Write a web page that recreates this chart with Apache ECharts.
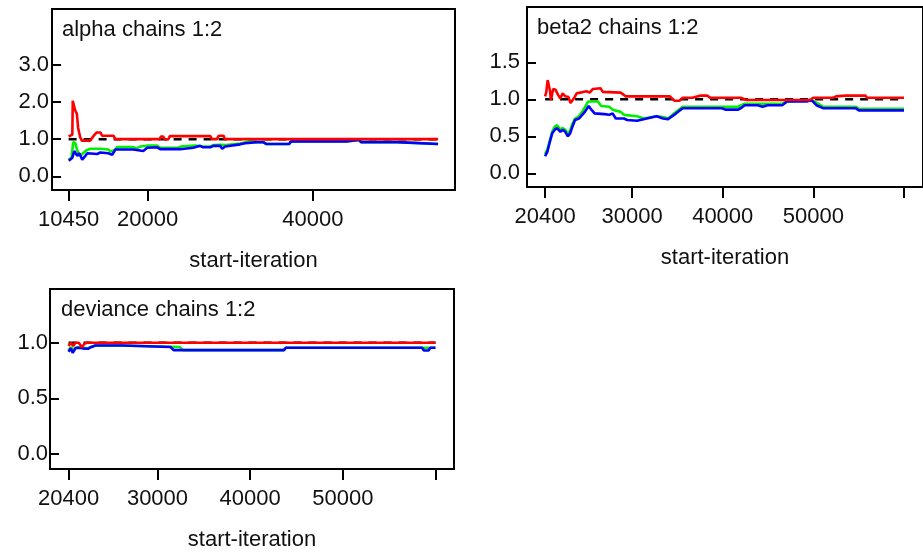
<!DOCTYPE html>
<html>
<head>
<meta charset="utf-8">
<title>BGR diagnostics</title>
<script src="https://cdn.jsdelivr.net/npm/echarts@6/dist/echarts.min.js"></script>
<style>
  html, body { margin: 0; padding: 0; background: #fff; }
  #chart { width: 923px; height: 552px; }
</style>
</head>
<body>
<div id="chart"></div>
<script>
// panel titles
var panelTitles = ["alpha chains 1:2", "beta2 chains 1:2", "deviance chains 1:2"];

// alpha: [start-iteration, value]
var alphaRed = [[10450,1.07],[10900,1.12],[10950,2.03],[11150,2.03],[11250,1.77],[11450,1.68],[11600,1.3],[11850,1.05],[12050,0.96],[13050,0.96],[13450,1.08],[13850,1.18],[14300,1.18],[14500,1.09],[15900,1.09],[16100,1.0],[21500,1.0],[21600,1.07],[21900,1.07],[22100,0.99],[22500,0.99],[22700,1.08],[27600,1.08],[27800,1.0],[28400,1.0],[28600,1.09],[29200,1.09],[29350,1.0],[55150,1.0]];
var alphaGreen = [[10450,0.45],[10800,0.5],[11000,0.92],[11250,0.9],[11500,0.7],[11850,0.55],[12200,0.62],[12600,0.7],[13100,0.74],[14300,0.74],[15250,0.72],[15500,0.67],[16000,0.7],[16350,0.79],[18270,0.79],[18600,0.74],[19100,0.8],[20100,0.83],[21170,0.83],[21530,0.77],[23700,0.77],[24190,0.81],[25760,0.83],[26730,0.8],[27580,0.8],[27940,0.84],[28790,0.85],[29030,0.8],[29500,0.84],[31200,0.88],[32400,0.94],[33260,0.92],[33990,0.92],[34350,0.87],[37130,0.87],[37370,0.94],[44020,0.94],[44260,0.98],[45590,0.98],[45830,0.92],[50190,0.92],[50430,0.87],[55150,0.87]];
var alphaBlue = [[10470,0.42],[10900,0.5],[11140,0.68],[11500,0.55],[11740,0.62],[12100,0.45],[12470,0.55],[12710,0.62],[13920,0.6],[14280,0.64],[15250,0.62],[15490,0.57],[15730,0.58],[16100,0.72],[18270,0.72],[18500,0.68],[19480,0.68],[19960,0.77],[21170,0.78],[21530,0.73],[23950,0.73],[24190,0.77],[25520,0.77],[25760,0.82],[26370,0.82],[26730,0.78],[27580,0.78],[27940,0.82],[28790,0.82],[29030,0.74],[29390,0.8],[31200,0.86],[31800,0.89],[33260,0.92],[33990,0.92],[34350,0.87],[37130,0.87],[37370,0.94],[44020,0.94],[44260,0.98],[45590,0.98],[45830,0.92],[50190,0.92],[50430,0.87],[55150,0.87]];
var alphaRef = [[10450,1],[55150,1]];

// beta2
var beta2Red = [[20400,1.04],[20530,1.10],[20680,1.26],[20820,1.24],[20930,1.12],[21040,0.99],[21140,1.0],[21290,1.14],[21540,1.13],[21830,1.06],[22080,1.01],[22330,1.08],[22620,1.04],[22980,1.03],[23200,0.95],[23340,0.94],[23560,1.01],[23880,1.08],[24600,1.10],[24960,1.11],[25320,1.09],[25680,1.14],[26510,1.15],[26760,1.10],[28740,1.09],[29280,1.04],[34140,1.04],[34680,0.98],[35220,0.98],[35580,1.02],[36660,1.02],[37560,1.05],[38280,1.05],[38640,1.02],[42060,1.02],[42600,0.99],[45840,0.99],[46020,1.01],[46380,0.99],[49620,0.99],[49980,1.02],[52140,1.02],[52500,1.04],[53580,1.05],[55740,1.05],[55920,1.02],[60000,1.02]];
var beta2Green = [[20400,0.26],[20640,0.32],[20890,0.43],[21180,0.56],[21470,0.63],[21720,0.65],[22080,0.59],[22330,0.61],[22620,0.59],[22910,0.53],[23160,0.58],[23410,0.67],[23700,0.74],[24130,0.77],[24490,0.83],[24780,0.89],[25140,0.97],[26220,0.97],[26580,0.91],[27480,0.90],[27840,0.86],[28740,0.83],[29100,0.79],[30540,0.77],[31260,0.74],[32700,0.77],[33420,0.76],[33960,0.74],[34860,0.83],[35580,0.90],[41700,0.90],[42420,0.94],[46560,0.94],[47100,0.97],[49800,0.99],[50520,0.94],[51060,0.90],[54660,0.90],[55020,0.87],[60000,0.87]];
var beta2Blue = [[20400,0.23],[20640,0.29],[20890,0.41],[21180,0.54],[21470,0.59],[21720,0.61],[22080,0.56],[22330,0.59],[22620,0.56],[22910,0.50],[23160,0.54],[23410,0.63],[23700,0.72],[24130,0.74],[24490,0.79],[24780,0.83],[25210,0.91],[25500,0.86],[25860,0.81],[26940,0.80],[27480,0.79],[27840,0.81],[28200,0.74],[29100,0.74],[29460,0.72],[30540,0.71],[31260,0.73],[32700,0.77],[33420,0.74],[33960,0.73],[34860,0.81],[35580,0.88],[39900,0.88],[40300,0.86],[41700,0.86],[42000,0.88],[42420,0.92],[43860,0.92],[44400,0.90],[44940,0.92],[46560,0.92],[47100,0.97],[49260,0.97],[49800,0.99],[50340,0.92],[51060,0.88],[54660,0.88],[55020,0.85],[60000,0.85]];
var beta2Ref = [[20400,1],[60000,1]];

// deviance
var devianceRed = [[20400,0.97],[20650,1.0],[20900,0.97],[21150,1.0],[21500,1.0],[21850,0.96],[22100,0.99],[22400,1.0],[60000,1.0]];
var devianceGreen = [[20400,0.93],[20650,0.96],[20850,0.94],[21150,0.955],[21400,0.96],[21900,0.955],[22500,0.95],[22800,0.962],[23300,0.975],[26200,0.975],[26400,0.962],[32400,0.962],[32750,0.934],[43650,0.934],[43850,0.955],[60000,0.955]];
var devianceBlue = [[20400,0.92],[20650,0.95],[20850,0.91],[21150,0.95],[21400,0.955],[21900,0.95],[22500,0.946],[22800,0.96],[23300,0.975],[26200,0.975],[26400,0.962],[31400,0.962],[31750,0.934],[43650,0.934],[43850,0.955],[58550,0.955],[58750,0.93],[59250,0.93],[59450,0.955],[60000,0.955]];
var devianceRef = [[20400,1],[60000,1]];

// ticks / labels
var alphaYTicks = [0, 1, 2, 3];
var alphaXTicks = [10450, 20000, 40000];
var beta2YTicks = [0, 0.5, 1, 1.5];
var beta2XTicks = [20400, 30000, 40000, 50000, 60000];
var beta2XLabels = [20400, 30000, 40000, 50000];
var devianceYTicks = [0, 0.5, 1];
var devianceXTicks = [20400, 30000, 40000, 50000, 60000];
var devianceXLabels = [20400, 30000, 40000, 50000];

var FONT = "'Liberation Sans', Arial, sans-serif";
var TXT = "#111";

var panels = [
  { grid: { left: 52, top: 9, width: 403, height: 181 }, xmin: 8440, xmax: 57200, ymin: -0.368, ymax: 4.5,
    xTicks: alphaXTicks, xLabels: alphaXTicks, yTicks: alphaYTicks, yMargin: 3,
    red: alphaRed, green: alphaGreen, blue: alphaBlue, ref: alphaRef, tx: 62, ty: 19 },
  { grid: { left: 527, top: 7, width: 405, height: 180 }, xmin: 18400, xmax: 62100, ymin: -0.185, ymax: 2.247,
    xTicks: beta2XTicks, xLabels: beta2XLabels, yTicks: beta2YTicks, yMargin: 7,
    red: beta2Red, green: beta2Green, blue: beta2Blue, ref: beta2Ref, tx: 537, ty: 17 },
  { grid: { left: 50, top: 289, width: 404, height: 181 }, xmin: 18400, xmax: 62000, ymin: -0.134, ymax: 1.483,
    xTicks: devianceXTicks, xLabels: devianceXLabels, yTicks: devianceYTicks, yMargin: 2,
    red: devianceRed, green: devianceGreen, blue: devianceBlue, ref: devianceRef, tx: 61, ty: 299 }
];

var grids = [], xAxes = [], yAxes = [], series = [], graphics = [];

panels.forEach(function (p, i) {
  grids.push(Object.assign({ show: true, borderColor: "#000", borderWidth: 2, backgroundColor: "transparent" }, p.grid));
  xAxes.push({
    type: "value", gridIndex: i, min: p.xmin, max: p.xmax,
    axisLine: { show: true, onZero: false, lineStyle: { color: "#000", width: 2 } },
    axisTick: { show: true, length: 11, customValues: p.xTicks, lineStyle: { color: "#000", width: 2 } },
    axisLabel: { customValues: p.xLabels, margin: 19, fontSize: 22, color: TXT, fontFamily: FONT,
      formatter: function (v) { return String(v); } },
    splitLine: { show: false },
    name: "start-iteration", nameLocation: "middle", nameGap: 60,
    nameTextStyle: { fontSize: 22, color: TXT, fontFamily: FONT }
  });
  yAxes.push({
    type: "value", gridIndex: i, min: p.ymin, max: p.ymax,
    axisLine: { show: false, onZero: false },
    axisTick: { show: true, inside: true, length: 9, customValues: p.yTicks, lineStyle: { color: "#000", width: 2 } },
    axisLabel: { customValues: p.yTicks, margin: p.yMargin, fontSize: 22, color: TXT, fontFamily: FONT,
      formatter: function (v) { return v.toFixed(1); } },
    splitLine: { show: false }
  });
  // dashed reference line first, then green, blue, red on top
  series.push({ type: "line", xAxisIndex: i, yAxisIndex: i, data: p.ref, showSymbol: false,
    lineStyle: { color: "#000", width: 2.5, type: [8, 7] } });
  [["green", "#00f000"], ["blue", "#0000ff"], ["red", "#ff0000"]].forEach(function (c) {
    series.push({ type: "line", xAxisIndex: i, yAxisIndex: i, data: p[c[0]], showSymbol: false,
      lineStyle: { color: c[1], width: 2.6 } });
  });
  graphics.push({ type: "text", left: p.tx, top: p.ty,
    style: { text: panelTitles[i], font: "22px " + FONT, fill: TXT } });
});

var chart = echarts.init(document.getElementById("chart"));
chart.setOption({
  animation: false,
  backgroundColor: "#fff",
  grid: grids,
  xAxis: xAxes,
  yAxis: yAxes,
  series: series,
  graphic: graphics
});
</script>
</body>
</html>
